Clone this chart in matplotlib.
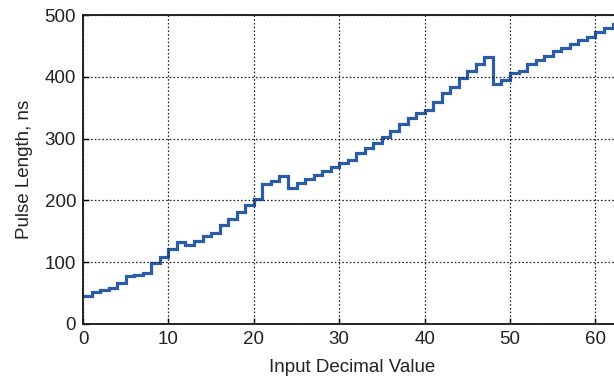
import numpy as np
import matplotlib.pyplot as plt

plt.rcParams['font.family'] = ['Liberation Sans', 'DejaVu Sans']

# input code (0..62) and measured pulse length for each code
codes = np.arange(0, 63)
pulse_ns = [45, 51, 55, 59, 67, 77, 79, 83, 98, 108,
            122, 132, 128, 135, 142, 148, 160, 170, 182, 192,
            203, 226, 231, 240, 220, 228, 234, 241, 247, 254,
            260, 266, 276, 284, 293, 302, 312, 323, 333, 342,
            347, 360, 373, 384, 398, 409, 421, 432, 389, 395,
            406, 410, 420, 427, 434, 441, 446, 453, 460, 465,
            472, 479, 485]

fig = plt.figure(figsize=(6.14, 3.78), dpi=100)
ax = fig.add_axes([0.1352, 0.1429, 0.8763, 0.8174])

# each code holds its value until the next code
edges = np.append(codes, codes[-1] + 1)
ax.stairs(pulse_ns, edges, color='#2b5ca8', linewidth=2.3, baseline=None)

ax.set_xlim(0, 63)
ax.set_ylim(0, 500)
ax.set_xticks([0, 10, 20, 30, 40, 50, 60])
ax.set_yticks([0, 100, 200, 300, 400, 500])

ax.grid(True, color='#222222', linestyle=(0, (1.3, 1.7)), linewidth=0.9)
for s in ax.spines.values():
    s.set_linewidth(1.4)
    s.set_color('#222222')
ax.tick_params(direction='in', length=4, width=1, labelsize=13.5, pad=5,
               labelcolor='#222222')

ax.set_xlabel('Input Decimal Value', fontsize=13.5, labelpad=8, color='#222222')
ax.set_ylabel('Pulse Length, ns', fontsize=13.5, labelpad=8, color='#222222')

fig.savefig('out.png', dpi=100)
plt.close(fig)
